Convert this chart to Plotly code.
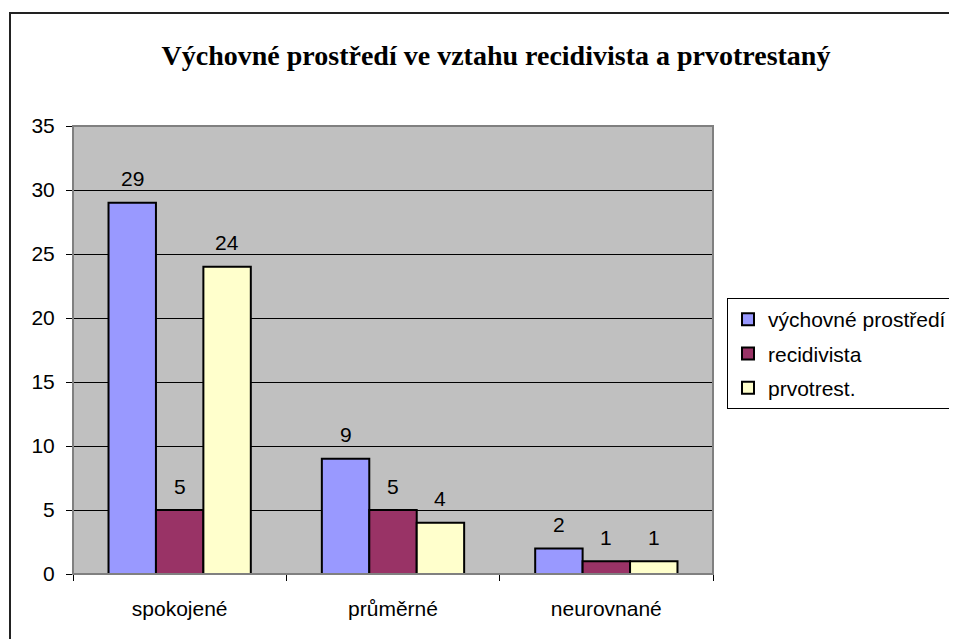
import plotly.graph_objects as go

categories = ["spokojené", "průměrné", "neurovnané"]
series_names = ["výchovné prostředí", "recidivista", "prvotrest."]
vychovne = [29, 9, 2]
recidivista = [5, 5, 1]
prvotrest = [24, 4, 1]
colors = ["#9999FF", "#993366", "#FFFFCC"]
y_ticks = [0, 5, 10, 15, 20, 25, 30, 35]

series_values = [vychovne, recidivista, prvotrest]

# the page body has an 8px margin, so the figure is laid out 8px smaller
OFF = 8
W, H = 957 - OFF, 639 - OFF
L, T = 73 - OFF, 126 - OFF
R = W - (713 - OFF)
B = H - (574 - OFF)
plot_w = W - L - R
plot_h = H - T - B

fig = go.Figure()
for i, (name, vals, col) in enumerate(zip(series_names, series_values, colors)):
    fig.add_trace(go.Bar(
        x=categories, y=vals, name=name,
        marker=dict(color=col, line=dict(color="black", width=2)),
        legendgroup=f"g{i}",
    ))

FONT = "Liberation Sans, Arial"
FS = 21

# data labels
group_w = plot_w / len(categories)
bargap = 0.333
bar_w = group_w * (1 - bargap) / 3
annotations = []
for i, vals in enumerate(series_values):
    for c, v in zip(categories, vals):
        annotations.append(dict(
            x=c, y=v, xref="x", yref="y", text=str(v), showarrow=False,
            xshift=(i - 1) * bar_w, yshift=24, yanchor="middle",
            font=dict(family=FONT, size=FS, color="black"),
        ))

fy = lambda px: 1 + (T - (px - OFF)) / plot_h
fx = lambda px: ((px - OFF) - L) / plot_w

shapes = [
    # outer chart border
    dict(type="rect", xref="paper", yref="paper",
         x0=fx(10), x1=fx(1100), y0=fy(800), y1=fy(13),
         line=dict(color="#222222", width=2), layer="below"),
    # plot area border
    dict(type="rect", xref="paper", yref="paper", x0=0, x1=1, y0=0, y1=1,
         line=dict(color="#808080", width=2), layer="above"),
]

fig.update_layout(
    width=W, height=H,
    margin=dict(l=L, r=R, t=T, b=B, autoexpand=False),
    paper_bgcolor="white",
    plot_bgcolor="#C0C0C0",
    barmode="group", bargap=bargap, bargroupgap=0,
    font=dict(family=FONT, size=FS, color="black"),
    title=dict(
        text="<b>Výchovné prostředí ve vztahu recidivista a prvotrestaný</b>",
        font=dict(family="Liberation Serif, Times New Roman", size=28, color="black"),
        x=fx(496), xanchor="center", xref="paper",
        y=1 - (55 - OFF) / H, yanchor="middle",
    ),
    xaxis=dict(
        tickson="boundaries", ticks="outside", ticklen=6, tickcolor="black",
        showline=True, linecolor="black", linewidth=1,
        showgrid=False, ticklabelstandoff=16,
        tickfont=dict(size=FS),
    ),
    yaxis=dict(
        range=[0, 35], tickvals=y_ticks, ticks="outside", ticklen=6,
        tickcolor="black", showgrid=True, gridcolor="black", gridwidth=1,
        zeroline=False, showline=False, ticklabelstandoff=7,
        tickfont=dict(size=FS),
    ),
    legend=dict(
        x=fx(727), xanchor="left", y=fy(298), yanchor="top",
        bordercolor="black", borderwidth=1, bgcolor="white",
        traceorder="grouped", tracegroupgap=4,
        font=dict(size=FS), itemwidth=30,
    ),
    annotations=annotations,
    shapes=shapes,
    showlegend=True,
)

fig.write_html("out.html")
